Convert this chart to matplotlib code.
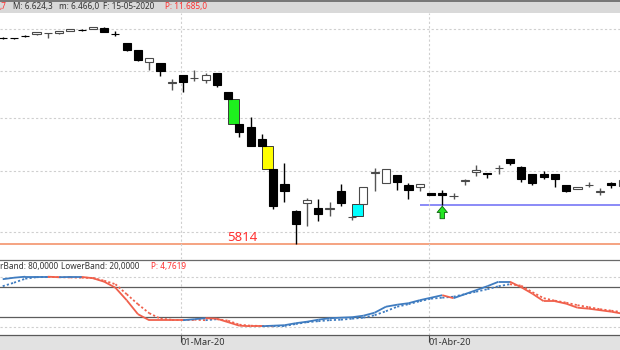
import numpy as np
import pandas as pd
import matplotlib
matplotlib.use('Agg')
import matplotlib.pyplot as plt
import matplotlib.transforms as mtransforms
from matplotlib.collections import LineCollection
from matplotlib.lines import Line2D
from matplotlib.patches import Rectangle
from matplotlib.ticker import NullLocator

plt.rcParams['font.family'] = ['Noto Sans', 'DejaVu Sans']

# sesiones (sin 10 y 13 de abril)
dates = pd.bdate_range('2020-02-07', '2020-04-28').drop(pd.to_datetime(['2020-04-10', '2020-04-13']))
month_labels = ['01-Mar-20', '01-Abr-20']

opens = [9790, 9785, 9845, 9875, 9905, 9900, 9968, 9995, 10018, 10050,
         9895, 9661, 9500, 9202, 9186, 8745, 8906, 8840, 8811, 8958,
         8541, 7876, 7823, 7593, 7035, 6770, 6331, 6450, 6364, 6360,
         6643, 6225, 6434, 6960, 6782, 6925, 6754, 6723, 6622, 6622,
         6565, 6819, 6972, 6954, 7045, 7209, 7066, 6938, 6938, 6938,
         6754, 6680, 6752, 6640, 6782, 6730]
highs = [9800, 9795, 9852, 9935, 9915, 9952, 10020, 10018, 10070, 10052,
         9950, 9665, 9505, 9315, 9190, 8817, 8910, 9019, 8958, 8960,
         8545, 7876, 8010, 7686, 7035, 7141, 6335, 6537, 6515, 6476,
         6770, 6237, 6714, 7054, 7030, 6925, 6782, 6778, 6625, 6667,
         6612, 6862, 7101, 6958, 7101, 7212, 7084, 6940, 6995, 6940,
         6758, 6716, 6797, 6699, 6812, 6840]
lows = [9770, 9770, 9822, 9870, 9795, 9898, 9965, 9958, 10015, 9930,
        9833, 9478, 9245, 9035, 8884, 8592, 8541, 8773, 8745, 8648,
        8385, 7624, 7450, 7448, 6358, 6476, 5814, 6090, 6173, 6237,
        6396, 6180, 6434, 6643, 6782, 6671, 6515, 6643, 6580, 6425,
        6520, 6754, 6914, 6868, 6938, 7101, 6812, 6745, 6855, 6714,
        6640, 6678, 6714, 6585, 6699, 6720]
closes = [9780, 9778, 9840, 9933, 9910, 9950, 10018, 9985, 10068, 9933,
          9890, 9502, 9250, 9312, 8996, 8750, 8758, 8848, 8913, 8685,
          8385, 7720, 7454, 7448, 6396, 6643, 6118, 6504, 6279, 6370,
          6450, 6230, 6714, 6970, 7030, 6797, 6671, 6775, 6585, 6585,
          6570, 6836, 7012, 6938, 7052, 7135, 6850, 6782, 6887, 6852,
          6643, 6714, 6756, 6646, 6745, 6836]

# huecos marcados
gaps = [20, 23, 31]
gap_colors = ['#1ef01e', '#ffff00', '#00ffff']

# estocastico %K y %D
stoch_k = [95, 98, 100, 100, 100, 99, 99.5, 99.5, 97, 90,
           78, 53, 25, 13, 13, 13, 13, 15, 17, 16,
           9, 2, 1, 1, 2, 3, 7, 10, 14, 17,
           18, 19, 22, 28, 40, 44, 47, 53, 58, 63,
           57, 65, 73, 81, 90, 90, 79, 66, 51, 51,
           46, 38, 36, 33, 30, 26]
stoch_d = [81, 88, 96, 99, 99.5, 99, 98.5, 98, 97.5, 92,
           85, 65, 45, 27, 16, 14, 14, 14, 13, 15,
           12, 4, 2, 1.5, 1, 1.4, 5.4, 9, 11, 13,
           14, 16, 18, 23, 31, 40, 45, 51, 56, 58,
           60, 65, 70, 75, 81, 85, 82, 69, 57, 52,
           48, 43, 39, 35, 32, 29]
upper_band, lower_band = 80, 20

W, H = 620, 350
RED = '#ff3030'
BLUE = '#3f7cc0'
SALMON = '#f0604c'
TXT = '#333333'


def box(top, bottom):
    return [0, 1 - bottom / H, 1, (bottom - top) / H]


fig = plt.figure(figsize=(6.2, 3.5), dpi=100)
fig.patch.set_facecolor('white')

# franjas grises de cabecera y fechas
fig.add_artist(Rectangle((0, 1 - 12.5 / H), 1, 12.5 / H, transform=fig.transFigure,
                         fc='#d9d9d9', ec='none', zorder=0))
fig.add_artist(Line2D([0, 1], [1 - 0.8 / H] * 2, transform=fig.transFigure, color='#6e6e6e', lw=1.3))
fig.add_artist(Rectangle((0, 0), 1, 15 / H, transform=fig.transFigure,
                         fc='#e2e2e2', ec='none', zorder=0))

ax = fig.add_axes(box(12.5, 259))
ax2 = fig.add_axes(box(261, 335))
fig.add_artist(Line2D([0, 1], [1 - 260 / H] * 2, transform=fig.transFigure, color='#6a6a6a', lw=0.9))
fig.add_artist(Line2D([0, 1], [1 - 335 / H] * 2, transform=fig.transFigure, color='#5a5a5a', lw=0.9))

x = np.arange(len(opens))
o, h, l, c = map(np.array, (opens, highs, lows, closes))
up = c >= o
lo_b, hi_b = np.minimum(o, c), np.maximum(o, c)

month_idx = np.flatnonzero(np.diff(dates.month)) + 1
month_pos = month_idx - 0.2
xlim = (-0.24, 54.77)

# ---- panel de precios
ax.set_yscale('log')
ax.set_xlim(*xlim)
ax.set_ylim(5602, 10438)
ax.set_yticks([6000, 7000, 8000, 9000, 10000])
ax.yaxis.set_minor_locator(NullLocator())
ax.set_xticks(month_pos)
ax.grid(True, ls=(0, (2, 2)), color='#cfcfcf', lw=0.8)
ax.tick_params(length=0, labelbottom=False, labelleft=False)
for s in ax.spines.values():
    s.set_visible(False)
ax.set_facecolor('none')

ax.vlines(x, l, h, colors=np.where(up, '#555555', '#000000'), lw=1, zorder=2)
ax.bar(x, hi_b - lo_b, bottom=lo_b, width=0.72, color=np.where(up, 'white', 'black'),
       edgecolor=np.where(up, '#4a4a4a', 'black'), lw=0.8, zorder=3)

for i, col in zip(gaps, gap_colors):
    if h[i + 1] < l[i]:
        y0, y1 = h[i + 1], l[i]
    else:
        y0, y1 = h[i], l[i + 1]
    ax.add_patch(Rectangle((i, y0), 1, y1 - y0, fc=col, ec='#3a3a3a', lw=0.7, zorder=2.5))

low_min = l.min()
ax.axhline(low_min, color='#f28a5f', lw=1.1, zorder=1.5)
ax.annotate(f'{low_min:.0f}', xy=(19.95, low_min), xytext=(0, 0.3), textcoords='offset points',
            ha='left', va='bottom', color=RED, fontsize=9.5)

ax.hlines(l[39], 37, xlim[1], color='#6b6bf5', lw=1.1, zorder=1.5)
tip = mtransforms.offset_copy(ax.transData, fig=fig, y=-1.5, units='dots')
tail = mtransforms.offset_copy(ax.transData, fig=fig, y=-14, units='dots')
ax.annotate('', xy=(39, l[39]), xycoords=tip, xytext=(39, l[39]), textcoords=tail,
            arrowprops=dict(arrowstyle='simple,head_length=0.45,head_width=0.75,tail_width=0.32',
                            fc='#22e622', ec='#0b5e0b', lw=0.6, shrinkA=0, shrinkB=0,
                            mutation_scale=10), zorder=4)

# ---- panel estocastico
ax2.set_xlim(*xlim)
ax2.set_ylim(-16.6, 131.4)
ax2.set_yticks([0, 100])
ax2.set_xticks(month_pos, month_labels)
ax2.grid(True, ls=(0, (2, 2)), color='#cfcfcf', lw=0.8)
ax2.tick_params(axis='y', length=0, labelleft=False)
ax2.tick_params(axis='x', length=5, width=0.8, color='#444444', pad=-3,
                labelsize=6.6, labelcolor=TXT)
for lab in ax2.get_xticklabels():
    lab.set_horizontalalignment('left')
for s in ax2.spines.values():
    s.set_visible(False)
ax2.set_facecolor('none')

ax2.axhline(upper_band, color='#5c5c5c', lw=0.9)
ax2.axhline(lower_band, color='#5c5c5c', lw=0.9)


def colored_line(axis, y, ls):
    pts = np.column_stack([x, y])
    segs = np.stack([pts[:-1], pts[1:]], axis=1)
    cols, state = [], BLUE
    for d in np.diff(y):
        if d > 0:
            state = BLUE
        elif d < 0:
            state = SALMON
        cols.append(state)
    axis.add_collection(LineCollection(segs, colors=cols, linewidths=1.3, linestyles=ls, zorder=3))


colored_line(ax2, np.array(stoch_d, float), (0, (1.2, 1.2)))
colored_line(ax2, np.array(stoch_k, float), '-')

# ---- textos de cabecera
fs = 5.9
yh = 1 - 6.5 / H
fig.text(0 / W, yh, ',7', color=RED, fontsize=fs, va='center', ha='left')
fig.text(13 / W, yh, 'M: 6.624,3', color=TXT, fontsize=fs, va='center', ha='left')
fig.text(59 / W, yh, 'm: 6.466,0', color=TXT, fontsize=fs, va='center', ha='left')
fig.text(103 / W, yh, 'F: 15-05-2020', color=TXT, fontsize=fs, va='center', ha='left')
fig.text(165 / W, yh, 'P: 11.685,0', color=RED, fontsize=fs, va='center', ha='left')

ys = 1 - 267 / H
fig.text(0 / W, ys, f'rBand: {upper_band},0000', color=TXT, fontsize=fs, va='center', ha='left')
fig.text(61 / W, ys, f'LowerBand: {lower_band},0000', color=TXT, fontsize=fs, va='center', ha='left')
fig.text(151 / W, ys, 'P: 4,7619', color=RED, fontsize=fs, va='center', ha='left')

fig.savefig('out.png', dpi=100)
